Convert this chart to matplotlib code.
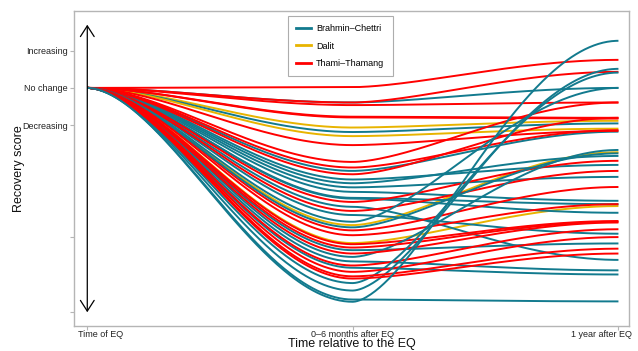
import numpy as np
import matplotlib
matplotlib.use("Agg")
import matplotlib.pyplot as plt
import matplotlib.transforms as mtransforms
from matplotlib.lines import Line2D

plt.rcParams["font.family"] = ["Liberation Sans", "DejaVu Sans"]

# Time points and their labels
time_pos = [0, 1, 2]
time_labels = ["Time of EQ", "0\u20136 months after EQ", "1 year after EQ"]

# Recovery score axis
score_ticks = [1, 0, -1, -4, -6]
score_labels = ["Increasing", "No change", "Decreasing", "", ""]

# Household trajectories: score at 0-6 months and at 1 year (start is always 0)
brahmin_mid = [-0.39, -1.18, -2.22, -2.45, -2.55, -2.66, -2.78, -2.94, -2.96, -3.18,
               -3.40, -3.58, -3.73, -4.34, -4.52, -4.64, -4.81, -5.22, -5.42, -5.66, -5.72]
brahmin_end = [0.00, -0.95, -1.17, -2.06, -1.82, -2.38, -3.02, -3.11, -3.34, -4.60,
               -3.90, 0.00, -1.75, -4.16, -1.66, -4.88, -4.99, 0.41, 0.51, -5.71, 1.26]

dalit_mid = [-1.06, -1.29, -3.67, -4.15]
dalit_end = [-0.88, -1.09, -1.72, -3.16]

thami_mid = [0.02, -0.39, -0.46, -0.77, -0.79, -1.53, -1.98, -2.13, -2.31, -3.05,
             -3.29, -3.81, -3.94, -4.18, -4.27, -4.43, -4.75, -4.92, -5.04, -5.10]
thami_end = [0.75, 0.43, -0.39, -0.80, -0.82, -1.15, -0.39, -1.13, -0.80, -1.95,
             -2.22, -2.65, -3.11, -3.56, -3.58, -3.60, -3.78, -3.99, -4.30, -4.43]

groups = [
    ("Brahmin\u2013Chettri", "#127A8E", brahmin_mid, brahmin_end),
    ("Dalit", "#E8B400", dalit_mid, dalit_end),
    ("Thami\u2013Thamang", "#FF0000", thami_mid, thami_end),
]


def ease(t, p):
    """Smoothstep on a warped time axis; flat at both ends."""
    s = t ** p
    return 3 * s ** 2 - 2 * s ** 3


def trajectory(mid, end, n=120):
    """Smooth path 0 -> mid -> end through the three survey waves."""
    t = np.linspace(0, 1, n)
    drop = mid * ease(t, 0.92)
    rise = mid + (end - mid) * ease(t, 0.85)
    x = np.concatenate([t, 1 + t[1:]])
    y = np.concatenate([drop, rise[1:]])
    return x, y


fig = plt.figure(figsize=(6.38, 3.51), dpi=100)
ax = fig.add_axes([0.116, 0.071, 0.870, 0.898])

n_max = max(len(g[2]) for g in groups)
for i in range(n_max):
    for name, color, mids, ends in groups:
        if i < len(mids):
            x, y = trajectory(mids[i], ends[i])
            ax.plot(x, y, color=color, lw=1.4, solid_capstyle="butt", zorder=2)

# Direction arrow on the time-of-EQ axis
ax.annotate("", xy=(0, 1.69), xytext=(0, -6.0),
            arrowprops=dict(arrowstyle="<->,head_length=0.7,head_width=0.45",
                            color="black", lw=0.9, shrinkA=0, shrinkB=0,
                            mutation_scale=11),
            zorder=3)

ax.set_xlim(-0.05, 2.04)
ax.set_ylim(-6.37, 2.06)
ax.set_xticks(time_pos)
ax.set_xticklabels([])
ax.set_yticks(score_ticks)
ax.set_yticklabels(score_labels)

# Time labels: outer ones are nudged so they stay inside the figure
xlab_tr = mtransforms.blended_transform_factory(ax.transData, ax.transAxes)
label_align = ["left", "center", "right"]
label_shift = [-9.5, 0, 13]
for pos, lab, ha, dx in zip(time_pos, time_labels, label_align, label_shift):
    tr = xlab_tr + mtransforms.ScaledTranslation(dx / 100, 0, fig.dpi_scale_trans)
    ax.text(pos, -0.027, lab, transform=tr, ha=ha, va="center",
            fontsize=6.5, color="#222222")

for s in ax.spines.values():
    s.set_color("#B5B5B5")
    s.set_linewidth(1.0)
ax.tick_params(axis="both", colors="#B5B5B5", labelcolor="#222222",
               length=3, width=0.8, labelsize=6.5, pad=1.5)

ax.set_xlabel("Time relative to the EQ", fontsize=9, color="#111111")
ax.xaxis.set_label_coords(0.5, -0.058)
ax.xaxis.label.set_va("center")
ax.set_ylabel("Recovery score", fontsize=9, color="#111111")
ax.yaxis.set_label_coords(-0.100, 0.5)
ax.yaxis.label.set_va("center")

handles = [Line2D([0], [0], color=c, lw=2.0) for _, c, _, _ in groups]
leg = ax.legend(handles, [g[0] for g in groups], loc="upper left",
                bbox_to_anchor=(0.386, 0.984), fontsize=6.5, frameon=True,
                fancybox=False, edgecolor="#999999", handlelength=1.6,
                handletextpad=0.6, labelspacing=0.95, borderpad=0.9,
                borderaxespad=0)
leg.get_frame().set_linewidth(0.8)

fig.savefig("out.png", dpi=100, facecolor="white")
